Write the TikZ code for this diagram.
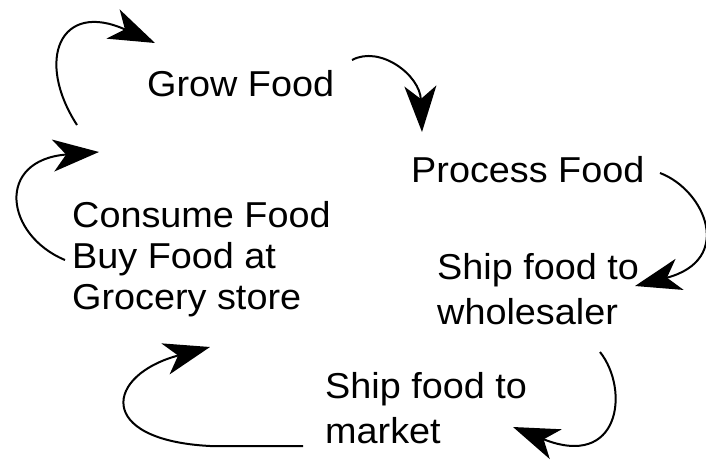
\documentclass[tikz,border=0pt]{standalone}
\usepackage{fontspec}
\setmainfont{Liberation Sans}
\usetikzlibrary{arrows.meta}

\tikzset{
  stage/.style={anchor=base west,inner sep=0pt,align=left,xscale=1.05,font=\fontsize{36}{41}\selectfont},
  loop/.style={line width=2pt,-{Stealth[length=46pt,width=32pt,inset=13pt]}}
}

\begin{document}
\begin{tikzpicture}[x=1pt,y=1pt,yscale=-1,xscale=1]
\useasboundingbox (0,0) rectangle (706,460);

% stages of the cycle (base = last line)
\node[stage] (grow) at (147,96) {Grow Food};
\node[stage] (process) at (411,182) {Process Food};
\node[stage] (consume) at (72,309) {Consume Food\\Buy Food at\\Grocery store};
\node[stage,font=\fontsize{36}{45}\selectfont] (wholesale) at (437,324) {Ship food to\\wholesaler};
\node[stage,font=\fontsize{36}{45}\selectfont] (market) at (325,443) {Ship food to\\market};

% ends of the curved arrows
\coordinate (a1) at (77,125);   \coordinate (b1) at (155,43);
\coordinate (a2) at (352,60);   \coordinate (b2) at (422,132);
\coordinate (a3) at (660,173);  \coordinate (b3) at (635,286);
\coordinate (a4) at (600,352);  \coordinate (b4) at (513,427);
\coordinate (a5) at (303,446);  \coordinate (m5) at (210,446);  \coordinate (b5) at (210,347);
\coordinate (a6) at (65,260);   \coordinate (b6) at (99,152);

\draw[loop] (a1) .. controls (35,60) and (60,0) .. (b1);
\draw[loop] (a2) .. controls (380,45) and (420,75) .. (b2);
\draw[loop] (a3) .. controls (705,190) and (735,260) .. (b3);
\draw[loop] (a4) .. controls (630,390) and (620,470) .. (b4);
\draw[loop] (a5) -- (m5) .. controls (95,440) and (105,375) .. (b5);
\draw[loop] (a6) .. controls (5,235) and (-5,160) .. (b6);

\end{tikzpicture}
\end{document}
